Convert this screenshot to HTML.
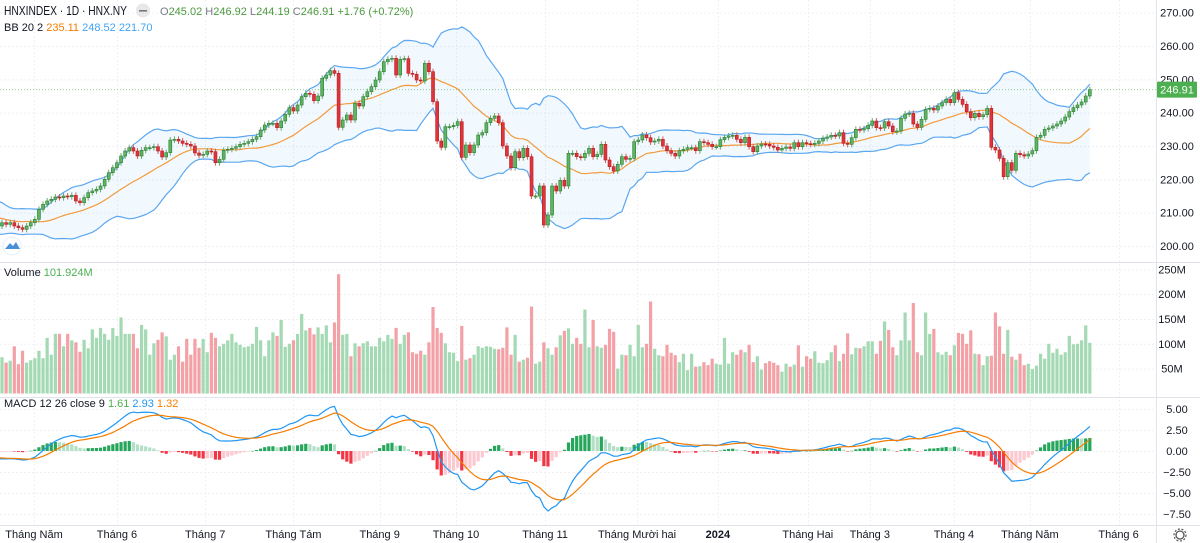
<!DOCTYPE html>
<html><head><meta charset="utf-8">
<style>
html,body{margin:0;padding:0;background:#fff;width:1200px;height:543px;overflow:hidden;font-family:"Liberation Sans",sans-serif;}
svg{display:block}
text{font-family:"Liberation Sans",sans-serif;}
</style></head>
<body>
<svg id="chart" width="1200" height="543" viewBox="0 0 1200 543" xmlns="http://www.w3.org/2000/svg">
<defs>
<clipPath id="cp"><rect x="0" y="0" width="1156" height="262"/></clipPath>
<clipPath id="cv"><rect x="0" y="262" width="1156" height="135"/></clipPath>
<clipPath id="cm"><rect x="0" y="397" width="1156" height="128"/></clipPath>
</defs>
<g id="grid"></g>
<g id="price" clip-path="url(#cp)"></g>
<g id="vol" clip-path="url(#cv)"></g>
<g id="macd" clip-path="url(#cm)"></g>
<g id="axes"></g>
<line x1="0" y1="262.5" x2="1200" y2="262.5" stroke="#e0e3eb"/>
<line x1="0" y1="397.5" x2="1200" y2="397.5" stroke="#e0e3eb"/>
<line x1="0" y1="525.5" x2="1200" y2="525.5" stroke="#e0e3eb"/>
<line x1="1156.5" y1="0" x2="1156.5" y2="543" stroke="#e0e3eb"/>
<g>
<text x="4" y="15" font-size="12.5" fill="#131722" textLength="123" lengthAdjust="spacingAndGlyphs">HNXINDEX · 1D · HNX.NY</text>
<circle cx="143" cy="10.5" r="7" fill="#e8e8ea"/>
<rect x="139" y="10" width="8" height="1.6" fill="#777"/>
<text x="160" y="15" font-size="11" fill="#787b86">O<tspan fill="#4b9a3c">245.02</tspan> H<tspan fill="#4b9a3c">246.92</tspan> L<tspan fill="#4b9a3c">244.19</tspan> C<tspan fill="#4b9a3c">246.91</tspan> <tspan fill="#4b9a3c">+1.76 (+0.72%)</tspan></text>
<text x="4" y="31" font-size="11" fill="#131722">BB 20 2 <tspan fill="#f57c00">235.11</tspan> <tspan fill="#42a5f5">248.52</tspan> <tspan fill="#42a5f5">221.70</tspan></text>
<text x="4" y="276" font-size="11" fill="#131722">Volume <tspan fill="#4caf50">101.924M</tspan></text>
<text x="4" y="407" font-size="11" fill="#131722">MACD 12 26 close 9 <tspan fill="#4caf50">1.61</tspan> <tspan fill="#2196f3">2.93</tspan> <tspan fill="#f57c00">1.32</tspan></text>
</g>
<g>
<circle cx="12" cy="246" r="9" fill="#fff" stroke="#e6eef7"/>
<path d="M5 249 L10 243 L13 246 L16 242 L20 249 Z" fill="#4a90d9"/>
</g>
<g>
<circle cx="1180" cy="535" r="4" fill="none" stroke="#555" stroke-width="1.3"/>
<circle cx="1180" cy="535" r="6" fill="none" stroke="#555" stroke-width="1.2" stroke-dasharray="2 1.7"/>
</g>
</svg>
<script>
const preCloses=[210,211,212,212.5,213,212,211.5,212,213,212.5,211,210.5,211,212,211.5,210,209.5,210,211,210.5,212,213,212,210,208,206,205,207,209,211,212,210,208,206,205,206,208,209,207,206];
const closes=[207,206.5,207,206,205.5,205,206,207,208,211,
212.5,213.5,214,214.7,214.5,215,214.8,215.2,213.5,213,
214.5,216,216.5,217,218,220,222,223.5,225,227,
228.5,229.5,228.5,227,228.7,229.5,229.5,229.8,228.5,226.7,
228,231.8,232,231.5,230.8,230.5,230,227.9,227.2,227.5,
228.5,228.3,225,226,228.7,229,229.3,229.8,230.5,230.8,
231.3,232,232.8,234.8,236.3,236.8,236.8,235.5,237.5,239.5,
241.5,240.5,242.3,
244.8,245.8,245.5,243.6,245,250.3,251.3,252.6,251.8,235.6,
237.8,239.3,237.8,242.8,242,244.8,246.3,247.8,249.8,252.3,
255.3,256,256.3,251.3,256,256.2,251.8,251.5,249.8,249.5,
254.8,252.3,243.3,231.5,229.6,235.8,235.8,236.2,237.3,226.6,
230.3,228,230.3,233.3,234,237,238.3,239,237,230,
227,223.5,228.3,226.5,229.3,226.8,215,215,218,206.3,
209.3,218,216.5,219.7,218,227.8,227.8,226.8,226.5,227.8,
229.3,226.8,227.5,
230.5,225.8,223.8,222.5,224.5,226.8,226,226.3,231.3,231.8,
233.3,232.5,231.2,231.5,232,230,228.6,227.8,227,228.6,
229,229.5,229.5,228.6,231.3,231,230.5,229.8,229.8,231.9,
232.6,233,233.2,232,231,232.6,229.8,228.3,230,230.6,
230.5,230,229.6,228.8,229.3,229.7,229.3,231,229.8,231,
230.7,230.5,230.8,231.5,232.3,232.7,233.2,233,234,230.8,
230.5,232.5,235,234.8,235.2,236.2,237.5,235.5,235.4,237.3,
236,234.3,234.5,
238.3,239.6,239.8,236.6,235.6,238,241,241.3,240.8,242,
243,244,243,246,244,242.5,240.3,238.5,239.8,238.8,
239.4,241.3,229.6,228.8,226.3,220.8,225,222.7,227.8,227.4,
227,227.6,228.6,232.6,233.2,235,235.4,236,236.6,237.5,
238.7,240.3,241.5,242.3,243.2,245,246.91];
const volumes=[73,62,66,95,59,86,62,67,71,86,71,112,78,120,120,95,120,107,103,84,108,91,129,112,132,120,108,132,116,153,120,120,120,91,138,129,78,101,108,123,115,68,78,95,64,110,78,
110,92,110,83,122,112,95,100,107,120,103,98,93,95,100,134,107,75,107,123,116,148,94,100,107,120,160,127,132,119,133,120,137,103,143,240,118,120,75,101,95,101,105,95,95,112,105,118,110,132,100,118,123,83,80,86,78,103,174,132,122,101,83,82,65,136,68,71,78,95,92,95,94,90,89,92,133,78,118,64,68,72,175,60,64,103,91,78,93,117,126,131,100,112,100,169,93,
148,95,92,98,130,124,50,78,77,98,75,138,93,100,185,90,77,75,98,82,77,63,80,47,80,54,55,63,57,70,60,58,112,60,83,78,88,83,98,63,75,48,61,65,62,57,44,60,54,58,97,54,75,70,85,62,61,67,83,97,65,80,121,79,92,91,95,105,105,80,106,145,128,93,77,107,163,107,182,83,77,163,120,130,83,78,84,77,97,122,120,100,127,80,79,57,75,76,163,135,80,128,74,68,80,57,60,49,56,80,70,100,82,90,78,83,116,99,100,107,137,102];
const priceTicks=[270,260,250,240,230,220,210,200];
const volTicks=[250,200,150,100,50];
const macdTicks=[5,2.5,0,-2.5,-5,-7.5];
const monthLabels=["Tháng Năm","Tháng 6","Tháng 7","Tháng Tám","Tháng 9","Tháng 10","Tháng 11","Tháng Mười hai","2024","Tháng Hai","Tháng 3","Tháng 4","Tháng Năm","Tháng 6"];
const monthIndex=[7.8,28,49.5,71,92,110.6,132.3,154.7,174.4,196.3,211.4,231.9,250.4,272];

const NS="http://www.w3.org/2000/svg";
function mk(tag,attrs,parent){const e=document.createElementNS(NS,tag);for(const k in attrs)e.setAttribute(k,attrs[k]);parent.appendChild(e);return e;}
const X=i=>2+i*4.105;
const PY=p=>246-(p-200)*3.3333;
const VY=v=>393.5-v*0.497;
const MY=v=>451-v*8.4;
const gGrid=document.getElementById('grid'),gP=document.getElementById('price'),gV=document.getElementById('vol'),gM=document.getElementById('macd'),gA=document.getElementById('axes');

const all=preCloses.concat(closes), P=preCloses.length;
const mid=[],up=[],lo=[];
for(let k=0;k<all.length;k++){ if(k<19){mid.push(null);up.push(null);lo.push(null);continue;}
 let s=0;for(let j=k-19;j<=k;j++)s+=all[j];const m=s/20;let v=0;for(let j=k-19;j<=k;j++)v+=(all[j]-m)**2;const sd=Math.sqrt(v/20);
 mid.push(m);up.push(m+2*sd);lo.push(m-2*sd);}
function ema(arr,n){const a=2/(n+1);const out=[];let e=arr[0];for(let k=0;k<arr.length;k++){e=k===0?arr[0]:a*arr[k]+(1-a)*e;out.push(e);}return out;}
const e12=ema(all,12),e26=ema(all,26);const macd=all.map((v,k)=>e12[k]-e26[k]);const sig=ema(macd,9);

priceTicks.forEach(t=>{const l=mk('line',{x1:0,x2:1156,y1:PY(t)+0.5,y2:PY(t)+0.5,stroke:'#eef0f3','stroke-dasharray':'2 2'},gGrid);
 
 const tx=mk('text',{x:1177,y:PY(t)+4,'font-size':11,fill:'#131722','text-anchor':'middle'},gA);tx.textContent=t.toFixed(2);
 });
volTicks.forEach(t=>{const l=mk('line',{x1:0,x2:1156,y1:VY(t)+0.5,y2:VY(t)+0.5,stroke:'#eef0f3','stroke-dasharray':'2 2'},gGrid);
 
 const tx=mk('text',{x:1172,y:VY(t)+4,'font-size':11,fill:'#131722','text-anchor':'middle'},gA);tx.textContent=t+'M';
 });
macdTicks.forEach(t=>{const l=mk('line',{x1:0,x2:1156,y1:MY(t)+0.5,y2:MY(t)+0.5,stroke:'#eef0f3','stroke-dasharray':'2 2'},gGrid);
 
 const tx=mk('text',{x:1177,y:MY(t)+4,'font-size':11,fill:'#131722','text-anchor':'middle'},gA);tx.textContent=(t<0?'−':'')+Math.abs(t).toFixed(2);
 });
monthLabels.forEach((m,k)=>{const x=X(monthIndex[k]);const xx=Math.round(x)+0.5;
 const l=mk('line',{x1:xx,x2:xx,y1:0,y2:525,stroke:'#eef0f3','stroke-dasharray':'2 2'},gGrid);
 
 const tx=mk('text',{x:x,y:538,'font-size':11,fill:'#131722','text-anchor':'middle','font-weight':m==='2024'?'bold':'normal'},gA);tx.textContent=m;
 });

const idx=[];for(let k=P-1;k<all.length;k++)idx.push(k);
let upPts=idx.map(k=>X(k-P).toFixed(1)+','+PY(up[k]).toFixed(1));
let loPts=idx.map(k=>X(k-P).toFixed(1)+','+PY(lo[k]).toFixed(1));
const fill=mk('polygon',{points:upPts.concat(loPts.slice().reverse()).join(' '),fill:'#2196f3','fill-opacity':0.06},gP);

const ub=mk('polyline',{points:upPts.join(' '),fill:'none',stroke:'#5ba7f0','stroke-width':1.2},gP);

const lb=mk('polyline',{points:loPts.join(' '),fill:'none',stroke:'#5ba7f0','stroke-width':1.2},gP);

const mb=mk('polyline',{points:idx.map(k=>X(k-P).toFixed(1)+','+PY(mid[k]).toFixed(1)).join(' '),fill:'none',stroke:'#f39a3c','stroke-width':1.2},gP);


const lp=closes[closes.length-1];
const pl=mk('line',{x1:0,x2:1156,y1:PY(lp),y2:PY(lp),stroke:'#4caf50','stroke-opacity':0.6,'stroke-dasharray':'1 2'},gA);

const pb=mk('rect',{x:1157,y:PY(lp)-8,width:40,height:16,fill:'#4caf50',rx:1},gA);

const pt=mk('text',{x:1177,y:PY(lp)+4,'font-size':11,fill:'#fff','text-anchor':'middle'},gA);pt.textContent=lp.toFixed(2);


for(let i=0;i<closes.length;i++){
 const o=i===0?preCloses[P-1]:closes[i-1],c=closes[i];const upc=c>=o;const x=X(i);
 const hi=Math.max(o,c)+0.9,lw=Math.min(o,c)-0.9;
 const wk=mk('line',{x1:x,x2:x,y1:PY(hi),y2:PY(lw),stroke:upc?'#6aa86f':'#d06060','stroke-width':1},gP);
 
 const top=PY(Math.max(o,c)),h=Math.max(1,Math.abs(PY(o)-PY(c)));
 const b=mk('rect',{x:x-1.5,y:top,width:3,height:h,fill:upc?'#5cb560':'#e0343c',stroke:upc?'#2e7d32':'#b71c1c','stroke-width':0.6},gP);
 
 if(i<volumes.length){const v=volumes[i];
  const vb=mk('rect',{x:x-1.6,y:VY(v),width:3.2,height:393.5-VY(v),fill:upc?'#a3d9b3':'#f3a0a6'},gV);
  }
}

for(let i=0;i<closes.length;i++){const k=i+P;const h=macd[k]-sig[k];const ph=macd[k-1]-sig[k-1];
 let col;if(h>=0)col=h>=ph?'#26a65b':'#b2dfc6';else col=h<=ph?'#f23645':'#fbc9cf';
 const y0=MY(0),y1=MY(h);
 const hb=mk('rect',{x:X(i)-1.6,y:Math.min(y0,y1),width:3.2,height:Math.max(0.5,Math.abs(y1-y0)),fill:col},gM);
 }
const ml=mk('polyline',{points:idx.map(k=>X(k-P).toFixed(1)+','+MY(macd[k]).toFixed(1)).join(' '),fill:'none',stroke:'#2196f3','stroke-width':1.2},gM);

const sl=mk('polyline',{points:idx.map(k=>X(k-P).toFixed(1)+','+MY(sig[k]).toFixed(1)).join(' '),fill:'none',stroke:'#f57c00','stroke-width':1.2},gM);

</script>
</body></html>
